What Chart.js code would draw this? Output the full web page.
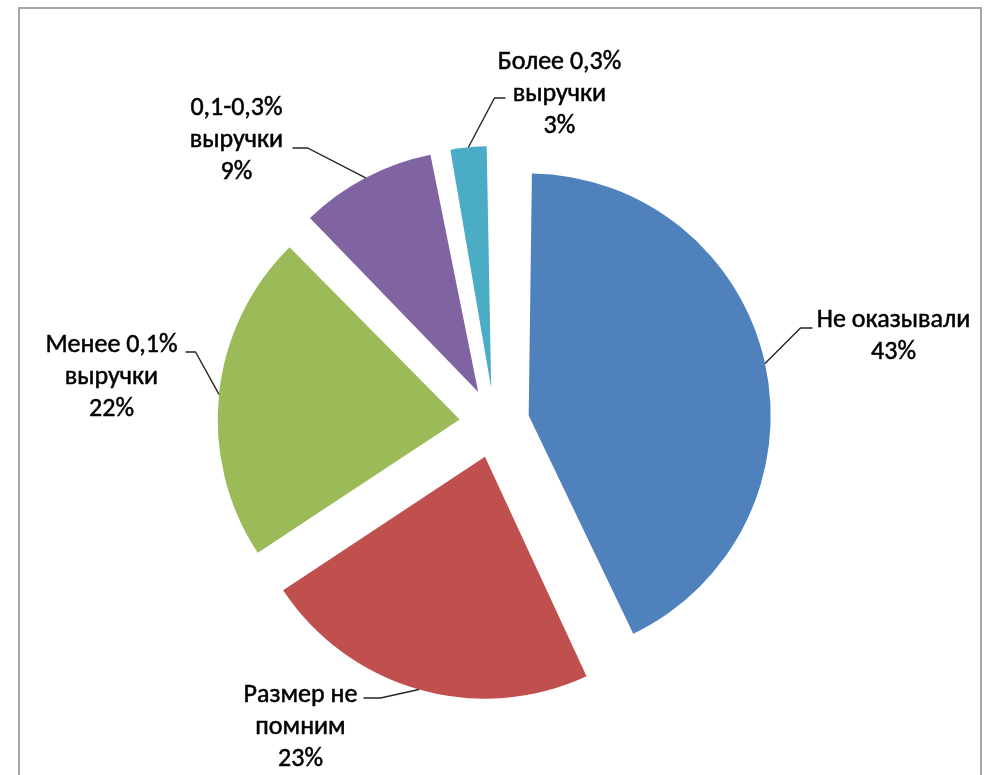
<!DOCTYPE html>
<html>
<head>
<meta charset="utf-8">
<script src="https://cdn.jsdelivr.net/npm/chart.js@4.4.0/dist/chart.umd.min.js"></script>
<style>
  html, body { margin: 0; padding: 0; background: #fff; }
  #wrap { width: 989px; height: 775px; position: relative; }
</style>
</head>
<body>
<div id="wrap"><canvas id="pie" width="989" height="775"></canvas></div>
<script>
// categories and shares (%)
const categories = ['Не оказывали', 'Размер не помним', 'Менее 0,1% выручки', '0,1-0,3% выручки', 'Более 0,3% выручки'];
const shares = [43.1, 22.6, 21.9, 9.4, 3.0];
// how each label is wrapped on the chart
const labelLines = [
    ['Не оказывали'],
    ['Размер не', 'помним'],
    ['Менее 0,1%', 'выручки'],
    ['0,1-0,3%', 'выручки'],
    ['Более 0,3%', 'выручки']
];
const colors = ['#4F81BD', '#C0504D', '#9BBB59', '#8064A2', '#4BACC6'];

// layout: explode distance, pie radius, label placement relative to pie centre
const EXPLODE = 35;
const RADIUS = 242;
const labelLayout = [
    { text: [399, -103], elbow: [306, -95], end: [318, -95] },
    { text: [-194, 272], elbow: [-114, 275], end: [-131, 275] },
    { text: [-383, -78], elbow: [-299, -71], end: [-309, -71] },
    { text: [-258, -315], elbow: [-187, -275], end: [-202, -275] },
    { text: [65, -361], elbow: [0, -325], end: [11, -325] }
];
const LINE_H = 32;
const FONT = '26px Carlito, "Liberation Sans Narrow", "DejaVu Sans Condensed", sans-serif';

const framePlugin = {
    id: 'frame',
    beforeDraw(chart) {
        const ctx = chart.ctx;
        ctx.save();
        ctx.fillStyle = '#fff';
        ctx.fillRect(0, 0, chart.width, chart.height);
        ctx.strokeStyle = '#A6A6A6';
        ctx.lineWidth = 2;
        ctx.strokeRect(19, 8, 962, 800);
        ctx.restore();
    }
};

// Chart.js grows exploded arcs by offset/4*(1-sin(c)); undo that so every slice keeps the same radius
const equalRadiusPlugin = {
    id: 'equalRadius',
    beforeDatasetsDraw(chart) {
        chart.getDatasetMeta(0).data.forEach(arc => {
            const c = arc.endAngle - arc.startAngle;
            const grow = EXPLODE * (1 - Math.sin(Math.min(Math.PI, c)));
            arc.outerRadius = RADIUS - grow;
        });
    }
};

const labelPlugin = {
    id: 'pieLabels',
    afterDatasetsDraw(chart) {
        const ctx = chart.ctx;
        const meta = chart.getDatasetMeta(0);
        const total = shares.reduce((a, b) => a + b, 0);
        const cx = (chart.chartArea.left + chart.chartArea.right) / 2;
        const cy = (chart.chartArea.top + chart.chartArea.bottom) / 2;
        ctx.save();
        meta.data.forEach((arc, i) => {
            const mid = (arc.startAngle + arc.endAngle) / 2;
            const ax = arc.x + Math.cos(mid) * EXPLODE;
            const ay = arc.y + Math.sin(mid) * EXPLODE;
            const sx = ax + Math.cos(mid) * RADIUS;
            const sy = ay + Math.sin(mid) * RADIUS;
            const L = labelLayout[i];
            ctx.strokeStyle = '#262626';
            ctx.lineWidth = 1.4;
            ctx.beginPath();
            ctx.moveTo(sx, sy);
            ctx.lineTo(cx + L.elbow[0], cy + L.elbow[1]);
            ctx.lineTo(cx + L.end[0], cy + L.end[1]);
            ctx.stroke();

            const pct = Math.round(shares[i] / total * 100) + '%';
            const lines = labelLines[i].concat([pct]);
            ctx.fillStyle = '#000';
            ctx.strokeStyle = '#000';
            ctx.lineWidth = 0.5;
            ctx.font = FONT;
            ctx.textAlign = 'center';
            ctx.textBaseline = 'middle';
            lines.forEach((t, k) => {
                const tx = cx + L.text[0];
                const ty = cy + L.text[1] + k * LINE_H;
                ctx.fillText(t, tx, ty);
                ctx.strokeText(t, tx, ty);
            });
        });
        ctx.restore();
    }
};

new Chart(document.getElementById('pie'), {
    type: 'pie',
    data: {
        labels: categories,
        datasets: [{
            data: shares,
            backgroundColor: colors,
            borderWidth: 0,
            offset: EXPLODE * 4
        }]
    },
    options: {
        responsive: false,
        animation: false,
        devicePixelRatio: 1,
        radius: RADIUS,
        layout: { padding: { top: 71, bottom: 0, left: 0, right: 0 } },
        plugins: {
            legend: { display: false },
            tooltip: { enabled: false }
        }
    },
    plugins: [framePlugin, equalRadiusPlugin, labelPlugin]
});
</script>
</body>
</html>
